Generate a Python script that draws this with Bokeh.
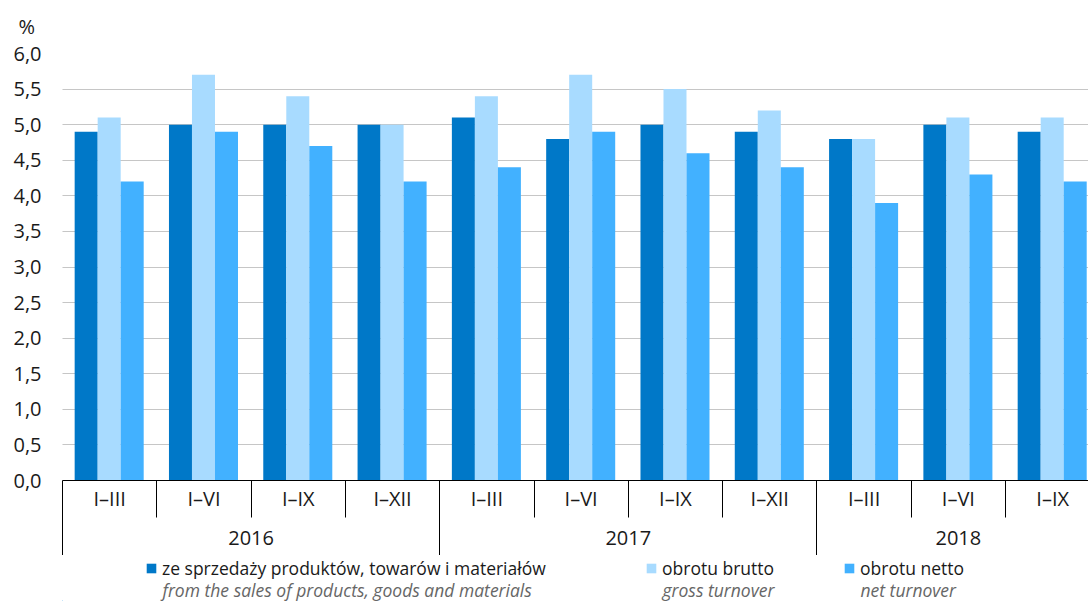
from bokeh.plotting import figure
from bokeh.layouts import column
from bokeh.models import (Range1d, FixedTicker, LinearAxis, CustomJSTickFormatter,
                          Legend, LegendItem, Label)
from bokeh.embed import file_html
from bokeh.resources import INLINE

# ---- data ----
periods = ["I–III", "I–VI", "I–IX", "I–XII",
           "I–III", "I–VI", "I–IX", "I–XII",
           "I–III", "I–VI", "I–IX"]
years = ["2016", "2017", "2018"]
year_sizes = [4, 4, 3]
sales = [4.9, 5.0, 5.0, 5.0, 5.1, 4.8, 5.0, 4.9, 4.8, 5.0, 4.9]
gross = [5.1, 5.7, 5.4, 5.0, 5.4, 5.7, 5.5, 5.2, 4.8, 5.1, 5.1]
net = [4.2, 4.9, 4.7, 4.2, 4.4, 4.9, 4.6, 4.4, 3.9, 4.3, 4.2]
y_ticks = [0.0, 0.5, 1.0, 1.5, 2.0, 2.5, 3.0, 3.5, 4.0, 4.5, 5.0, 5.5, 6.0]
series_pl = ["ze sprzedaży produktów, towarów i materiałów", "obrotu brutto", "obrotu netto"]
series_en = ["from the sales of products, goods and materials", "gross turnover", "net turnover"]
unit = "%"

C_DARK = "#0078c8"
C_LIGHT = "#a8dbff"
C_MID = "#42b1ff"
colors = [C_DARK, C_LIGHT, C_MID]
FONT = "Open Sans"
TXT = "#1a1a1a"
W = 1088
H1 = 555
H2 = 601 - H1
LEFT = 62

n = len(periods)
centers = [2 * i + 0.99 for i in range(n)]
bw = 0.488

p = figure(width=W, height=H1, output_backend="svg", toolbar_location=None,
           x_range=Range1d(0, 21.76), y_range=Range1d(0, 6.0),
           min_border_left=LEFT, min_border_right=0, min_border_top=53, min_border_bottom=75)
p.title.text = unit
p.title.align = "left"
p.title.offset = -44
p.title.standoff = 23
p.title.vertical_align = "top"
p.title.text_font = FONT
p.title.text_font_size = "20px"
p.title.text_font_style = "normal"
p.title.text_color = TXT
p.outline_line_color = None

r1 = p.vbar(x=[c - bw for c in centers], top=sales, width=bw, fill_color=C_DARK, line_color=None)
r2 = p.vbar(x=centers, top=gross, width=bw, fill_color=C_LIGHT, line_color=None)
r3 = p.vbar(x=[c + bw for c in centers], top=net, width=bw, fill_color=C_MID, line_color=None)

# grid
p.xgrid.visible = False
p.ygrid.grid_line_color = "#8c8c8c"
p.ygrid.grid_line_dash = "1 1"
p.ygrid.grid_line_width = 1

# y axis
ya = p.yaxis[0]
ya.ticker = FixedTicker(ticks=y_ticks, minor_ticks=[])
ya.formatter = CustomJSTickFormatter(code="return tick.toFixed(1).replace('.', ',');")
ya.axis_line_color = None
ya.major_tick_line_color = None
ya.minor_tick_line_color = None
ya.major_tick_out = 0
ya.major_tick_in = 0
ya.major_label_standoff = 21
ya.major_label_text_font = FONT
ya.major_label_text_font_size = "20px"
ya.major_label_text_color = TXT

# x axis: periods
xa = p.xaxis[0]
xa.ticker = FixedTicker(ticks=[2 * i + 1 for i in range(n)],
                        minor_ticks=[2 * i for i in range(n + 1)])
xa.major_label_overrides = {2 * i + 1: periods[i] for i in range(n)}
xa.axis_line_color = "black"
xa.axis_line_width = 1
xa.major_tick_out = 0
xa.major_tick_in = 0
xa.major_tick_line_color = None
xa.minor_tick_in = 0
xa.minor_tick_out = 37
xa.minor_tick_line_color = "black"
xa.major_label_standoff = -33
xa.major_label_text_font = FONT
xa.major_label_text_font_size = "20px"
xa.major_label_text_color = TXT

# x axis: years
starts = []
s = 0
for k in year_sizes:
    starts.append(s)
    s += k
year_centers = [2 * st + year_sizes[j] for j, st in enumerate(starts)]
xa2 = LinearAxis(ticker=FixedTicker(ticks=year_centers, minor_ticks=[2 * st for st in starts]))
xa2.major_label_overrides = {year_centers[j]: years[j] for j in range(len(years))}
xa2.axis_line_color = None
xa2.major_tick_out = 0
xa2.major_tick_in = 0
xa2.major_tick_line_color = None
xa2.minor_tick_in = 31
xa2.minor_tick_out = 42
xa2.minor_tick_line_color = "black"
xa2.major_label_standoff = -26
xa2.major_label_text_font = FONT
xa2.major_label_text_font_size = "20px"
xa2.major_label_text_color = TXT
p.add_layout(xa2, "below")

# ---- legend strip ----
q = figure(width=W, height=H2, output_backend="svg", toolbar_location=None,
           x_axis_type=None, y_axis_type=None,
           x_range=Range1d(0, W - LEFT), y_range=Range1d(0, H2),
           min_border_left=LEFT, min_border_right=0, min_border_top=0, min_border_bottom=0)
q.grid.visible = False
q.outline_line_color = None
dummies = [q.vbar(x=[-100], top=[1], width=1, fill_color=c, line_color=None) for c in colors]

leg_x = [83, 583, 781]
for j in range(3):
    lg = Legend(items=[LegendItem(label=series_pl[j], renderers=[dummies[j]])],
                location=(leg_x[j], 21), orientation="horizontal",
                glyph_width=12, glyph_height=12, label_height=12, label_standoff=5,
                padding=0, margin=0, spacing=0,
                border_line_color=None, background_fill_alpha=0,
                label_text_font=FONT, label_text_font_size="17.5px", label_text_color=TXT)
    q.add_layout(lg)

en_x = [100, 600, 798]
for j in range(3):
    q.add_layout(Label(x=en_x[j], y=12, x_units="screen", y_units="screen", text=series_en[j],
                       text_font=FONT, text_font_size="17.5px", text_font_style="italic",
                       text_color="#666666", text_baseline="middle", text_align="left"))

layout = column(p, q, spacing=0)
open("out.html", "w").write(file_html(layout, INLINE))
